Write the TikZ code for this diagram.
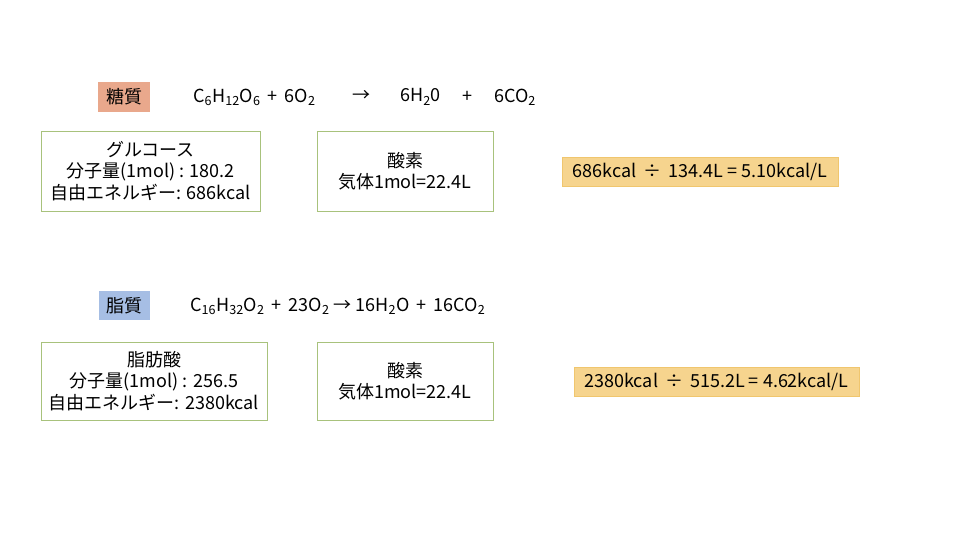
\documentclass[tikz,border=0pt]{standalone}
\usepackage{fontspec}
\setmainfont{Noto Sans CJK JP}
\usetikzlibrary{positioning}
\definecolor{salmon}{RGB}{233,168,140}
\definecolor{paleblue}{RGB}{166,190,228}
\definecolor{gold}{RGB}{246,212,142}
\definecolor{goldline}{RGB}{240,198,110}
\definecolor{leaf}{RGB}{168,194,124}
\newcommand{\chemsub}[1]{\textsubscript{#1}}
\begin{document}
\begin{tikzpicture}[x=1pt, y=-1pt,
  every node/.style={font=\fontsize{18}{21.5}\selectfont},
  tag/.style={shape=rectangle, inner sep=0pt, minimum width=52pt, minimum height=30pt},
  infobox/.style={shape=rectangle, draw=leaf, line width=0.9pt, fill=white, align=center, inner sep=0pt, minimum height=80pt},
  result/.style={shape=rectangle, draw=goldline, line width=0.6pt, fill=gold, inner sep=0pt, minimum height=29pt},
  formula/.style={anchor=west, inner sep=0pt}]
\useasboundingbox (0,0) rectangle (960,540);
% 糖質
\node[tag, fill=salmon](tou) at (124,97) {糖質};
\node[formula](eq1) at (193,97) {C\chemsub{6}H\chemsub{12}O\chemsub{6} \,+\, 6O\chemsub{2}};
\node[inner sep=0pt](arr1) at (361,96) {→};
\node[formula](eq1b) at (400,97) {6H\chemsub{2}0};
\node[inner sep=0pt](plus1) at (467,97) {+};
\node[formula](eq1c) at (494,97) {6CO\chemsub{2}};
\node[infobox, minimum width=219pt](glc) at (150.5,171) {グルコース\\分子量(1mol) : 180.2\\自由エネルギー: 686kcal};
\node[infobox, minimum width=176pt](ox1) at (405,171) {酸素\\気体1mol=22.4L};
\node[result, minimum width=276pt](res1) at (700,171.5) {686kcal \,÷\, 134.4L = 5.10kcal/L};
% 脂質
\node[tag, fill=paleblue, minimum width=51pt, minimum height=29pt](shi) at (124.5,305.5) {脂質};
\node[formula](eq2) at (190,306) {C\chemsub{16}H\chemsub{32}O\chemsub{2} \,+\, 23O\chemsub{2} → 16H\chemsub{2}O \,+\, 16CO\chemsub{2}};
\node[infobox, minimum width=226pt, minimum height=78pt](fat) at (154,381) {脂肪酸\\分子量(1mol) : 256.5\\自由エネルギー: 2380kcal};
\node[infobox, minimum width=176pt, minimum height=78pt](ox2) at (405,381) {酸素\\気体1mol=22.4L};
\node[result, minimum width=285pt](res2) at (716.5,381.5) {2380kcal \,÷\, 515.2L = 4.62kcal/L};
\end{tikzpicture}
\end{document}
